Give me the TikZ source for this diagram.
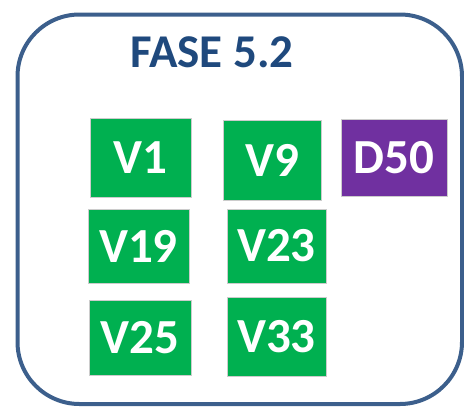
\documentclass[tikz,border=0pt]{standalone}
\usepackage{fontspec}
\setmainfont{Carlito}
\usetikzlibrary{positioning}

\definecolor{framblue}{HTML}{3C5F8C}
\definecolor{titblue}{HTML}{1F497D}
\definecolor{vgreen}{HTML}{00B050}
\definecolor{dpurple}{HTML}{7030A0}

\begin{document}
\begin{tikzpicture}[
  x=1pt, y=-1pt,
  frame/.style={draw=framblue, line width=4pt, rounded corners=62pt},
  title/.style={font=\fontsize{47}{52}\selectfont\bfseries, text=titblue},
  tag/.style={draw=gray!40, thin, fill=vgreen, text=white, inner sep=0pt,
              font=\fontsize{49}{54}\selectfont\bfseries},
  dtag/.style={tag, fill=dpurple}
]
\useasboundingbox (0,0) rectangle (464,408);

% ---------- rahmen ----------
\draw[frame] (17.5,14.5) rectangle (462,404);
\node[title] (fase) at (212,52) {FASE 5.2};

% ---------- baris 1 ----------
\node[tag,  minimum width=101pt, minimum height=79pt] (v1)  at (140.5,157.5) {V1};
\node[tag,  minimum width=98pt,  minimum height=80pt] (v9)  at (272,160)     {V9};
\node[dtag, minimum width=106pt, minimum height=77pt] (d50) at (394,157.5)   {D50};

% ---------- baris 2 ----------
\node[tag, minimum width=101pt, minimum height=74pt] (v19) at (138.5,246) {V19};
\node[tag, minimum width=99pt,  minimum height=74pt] (v23) at (276.5,246) {V23};

% ---------- baris 3 ----------
\node[tag, minimum width=102pt, minimum height=75pt] (v25) at (140,337.5)   {V25};
\node[tag, minimum width=99pt,  minimum height=79pt] (v33) at (276.5,336.5) {V33};

\end{tikzpicture}
\end{document}
